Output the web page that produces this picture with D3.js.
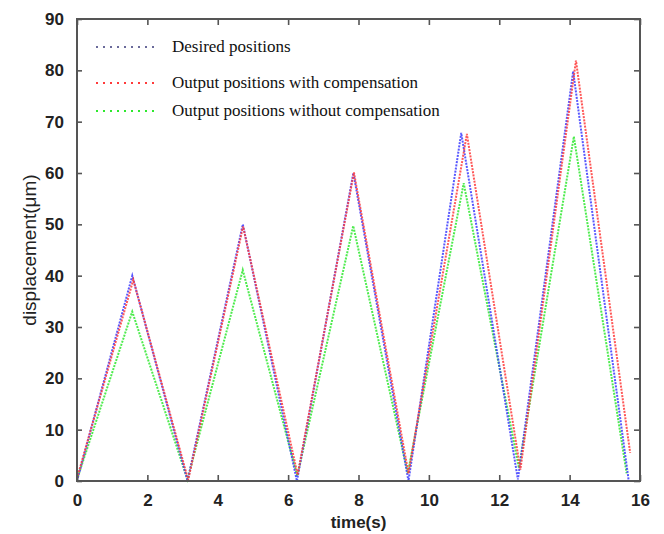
<!DOCTYPE html>
<html>
<head>
<meta charset="utf-8">
<script src="https://cdn.jsdelivr.net/npm/d3@7"></script>
<style>
  body { margin: 0; background: #fff; }
  .tick text { font-family: "Liberation Sans", Arial, sans-serif; font-weight: bold; font-size: 17px; fill: #222; }
  .legend text { font-family: "Liberation Serif", "Times New Roman", serif; font-size: 17px; fill: #111; }
</style>
</head>
<body>
<svg id="chart" width="664" height="534"></svg>
<script>
// vertices of each trace (time in s, displacement in um)
var desiredT = [0, 1.571, 3.142, 4.712, 6.25, 7.854, 9.42, 10.92, 12.53, 14.10, 15.68];
var desiredY = [0, 40, 0, 50, 0, 60, 0, 67.8, 0.3, 79.8, 0];
var compT = [0, 1.60, 3.16, 4.72, 6.27, 7.87, 9.42, 11.08, 12.60, 14.18, 15.72];
var compY = [0.5, 39.2, 0.2, 49.6, 1.2, 60.1, 1.5, 67.6, 2.2, 81.9, 5.5];
var noCompT = [0, 1.57, 3.14, 4.71, 6.26, 7.85, 9.40, 10.99, 12.56, 14.12, 15.62];
var noCompY = [0.3, 33, 0.3, 41.1, 1, 49.7, 1.5, 58, 2.5, 67.1, 1.5];

var xTicks = [0, 2, 4, 6, 8, 10, 12, 14, 16];
var yTicks = [0, 10, 20, 30, 40, 50, 60, 70, 80, 90];
var legendNames = ["Desired positions", "Output positions with compensation", "Output positions without compensation"];
var colors = ["#3a3aff", "#ff3a3a", "#2ee82e"];

var svg = d3.select("#chart"),
    margin = {top: 19, right: 24, bottom: 53, left: 77},
    width = +svg.attr("width") - margin.left - margin.right,
    height = +svg.attr("height") - margin.top - margin.bottom;

var g = svg.append("g").attr("transform", "translate(" + margin.left + "," + margin.top + ")");

var x = d3.scaleLinear().domain([0, 16]).range([0, width]);
var y = d3.scaleLinear().domain([0, 90]).range([height, 0]);

function toPts(ts, vs) { return ts.map(function(t, i) { return [t, vs[i]]; }); }
var series = [
  {pts: toPts(noCompT, noCompY), color: colors[2]},
  {pts: toPts(desiredT, desiredY), color: colors[0]},
  {pts: toPts(compT, compY), color: colors[1]}
];

var line = d3.line().x(function(d) { return x(d[0]); }).y(function(d) { return y(d[1]); });

g.selectAll(".trace")
    .data(series)
  .enter().append("path")
    .attr("class", "trace")
    .attr("d", function(d) { return line(d.pts); })
    .attr("fill", "none")
    .attr("stroke", function(d) { return d.color; })
    .attr("stroke-width", 2)
    .attr("stroke-dasharray", "2,1.2")
    .attr("opacity", 0.85);

// axes with inward ticks on all four sides
var axisColor = "#555";
function styleAxis(sel) {
  sel.select(".domain").remove();
  sel.selectAll(".tick line").attr("stroke", axisColor).attr("stroke-width", 1.6);
}
g.append("g").attr("transform", "translate(0," + height + ")")
    .call(d3.axisBottom(x).tickValues(xTicks).tickSizeInner(-6).tickPadding(13))
    .call(styleAxis);
g.append("g")
    .call(d3.axisLeft(y).tickValues(yTicks).tickSizeInner(-5).tickPadding(13))
    .call(styleAxis);
g.append("g")
    .call(d3.axisTop(x).tickValues(xTicks).tickSizeInner(-6).tickFormat(""))
    .call(styleAxis);
g.append("g").attr("transform", "translate(" + width + ",0)")
    .call(d3.axisRight(y).tickValues(yTicks).tickSizeInner(-6).tickFormat(""))
    .call(styleAxis);

g.append("rect")
    .attr("width", width).attr("height", height)
    .attr("fill", "none").attr("stroke", axisColor).attr("stroke-width", 2);

// legend
var legend = g.append("g").attr("class", "legend");
var rowY = [28, 64, 92];
legendNames.forEach(function(name, i) {
  legend.append("line")
      .attr("x1", 19).attr("x2", 80)
      .attr("y1", rowY[i]).attr("y2", rowY[i])
      .attr("stroke", i == 0 ? "#6a6a9a" : colors[i])
      .attr("stroke-width", 2)
      .attr("stroke-dasharray", "2,5");
  legend.append("text")
      .attr("x", 95).attr("y", rowY[i] + 5)
      .text(name);
});

// axis titles
svg.append("text")
    .attr("x", margin.left + width / 2).attr("y", 528)
    .attr("text-anchor", "middle")
    .style("font-family", "Liberation Sans, Arial, sans-serif")
    .style("font-weight", "bold").style("font-size", "17px").style("fill", "#222")
    .text("time(s)");
svg.append("text")
    .attr("transform", "translate(36," + (margin.top + height / 2) + ") rotate(-90)")
    .attr("text-anchor", "middle")
    .style("font-family", "Liberation Sans, Arial, sans-serif")
    .style("font-size", "19px").style("fill", "#222")
    .text("displacement(\u03bcm)");
</script>
</body>
</html>
